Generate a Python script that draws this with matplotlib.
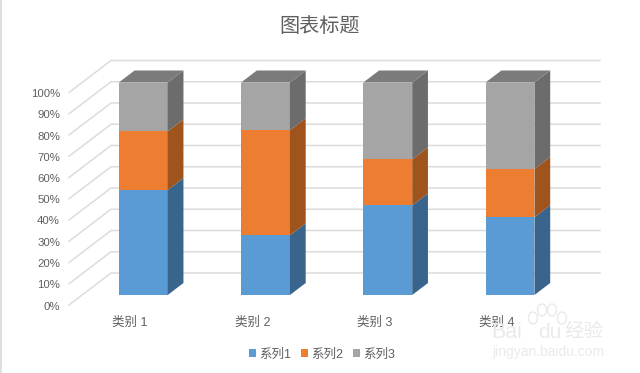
import matplotlib
matplotlib.use('Agg')
import matplotlib.pyplot as plt
from matplotlib.patches import Polygon, Patch, Ellipse
from matplotlib.transforms import ScaledTranslation
import numpy as np

plt.rcParams['font.family'] = ['Liberation Sans', 'Noto Sans CJK SC', 'DejaVu Sans']

categories = ['类别 1', '类别 2', '类别 3', '类别 4']
series_names = ['系列1', '系列2', '系列3']
series1 = [4.3, 2.5, 3.5, 4.5]
series2 = [2.4, 4.4, 1.8, 2.8]
series3 = [2, 2, 3, 5]
y_ticks = list(range(0, 101, 10))
y_labels = [f'{v}%' for v in y_ticks]

front = ['#5B9BD5', '#ED7D31', '#A5A5A5']
side = ['#39658C', '#A0541D', '#6C6C6C']
top_color = '#7B7B7B'
text_color = '#5F5F5F'
grid_color = '#DCDCDC'
mark_color = '#EAEAEA'

W, H = 640, 373
fig = plt.figure(figsize=(6.4, 3.73), dpi=100)
ax = fig.add_axes([69 / W, 1 - 305 / H, 489 / W, 212.5 / H])
ax.set_xlim(-0.5, 3.5)
ax.set_ylim(0, 100)

# wall depth in data units, front plane to back plane
dx = 42 / 122.25
dy = 32 / 2.125
d0, d1 = 10 / 32, 22 / 32
bar_w = 0.4

def pt(x, y, d):
    return (x + d * dx, y + d * dy)

for v in y_ticks:
    ax.plot(*zip(pt(-0.5, v, 0), pt(-0.5, v, 1), pt(3.5, v, 1)), color=grid_color,
            lw=1.1, clip_on=False, zorder=1)

data = np.array([series1, series2, series3], dtype=float)
pct = data / data.sum(axis=0) * 100
bottoms = np.vstack([np.zeros(4), np.cumsum(pct, axis=0)[:-1]])

for i in range(4):
    l, r = i - bar_w / 2, i + bar_w / 2
    for s in range(3):
        b, t = bottoms[s, i], bottoms[s, i] + pct[s, i]
        ax.add_patch(Polygon([pt(l, b, d0), pt(r, b, d0), pt(r, t, d0), pt(l, t, d0)],
                             fc=front[s], ec='none', clip_on=False, zorder=3))
        ax.add_patch(Polygon([pt(r, b, d0), pt(r, b, d1), pt(r, t, d1), pt(r, t, d0)],
                             fc=side[s], ec='none', clip_on=False, zorder=3))
    ax.add_patch(Polygon([pt(l, 100, d0), pt(r, 100, d0), pt(r, 100, d1), pt(l, 100, d1)],
                         fc=top_color, ec='none', clip_on=False, zorder=3))

for sp in ax.spines.values():
    sp.set_visible(False)
ax.set_xticks(range(4))
ax.set_xticklabels(categories, fontsize=9, color=text_color)
ax.set_yticks(y_ticks)
ax.set_yticklabels(y_labels, fontsize=8.2, color=text_color, va='center')
ax.tick_params(axis='x', length=0, pad=8.5)
ax.tick_params(axis='y', length=0, pad=6.5)
# the percent labels sit a little under their lines
for lab in ax.get_yticklabels():
    lab.set_transform(lab.get_transform() + ScaledTranslation(0, -1.5 / 100, fig.dpi_scale_trans))

fig.text(320 / W, 1 - 27 / H, '图表标题', fontsize=14.5, color=text_color, ha='center', va='center')

handles = [Patch(fc=c, ec='none') for c in front]
fig.legend(handles, series_names, loc='center', bbox_to_anchor=(322 / W, 1 - 354.5 / H), ncols=3,
           frameon=False, fontsize=9, labelcolor=text_color, handlelength=0.55, handleheight=0.55,
           handletextpad=0.3, columnspacing=0.75)

# chart border on the left edge and the watermark
fig.add_artist(plt.Line2D([1 / W, 1 / W], [0, 1], color='#D9D9D9', lw=1.2))
fig.text(507 / W, 1 - 333 / H, 'Bai', fontsize=15.5, color=mark_color, ha='center', va='center', zorder=5)
fig.text(550 / W, 1 - 333 / H, 'du', fontsize=15, color=mark_color, ha='center', va='center', zorder=5)
fig.text(584 / W, 1 - 332 / H, '经验', fontsize=14, color=mark_color, ha='center', va='center', zorder=5)
fig.text(548 / W, 1 - 352 / H, 'jingyan.baidu.com', fontsize=10, color=mark_color, ha='center', va='center', zorder=5)
for px, py in [(533, 318), (542, 310), (552, 310), (562, 318)]:
    fig.add_artist(Ellipse((px / W, 1 - py / H), 9 / W, 12 / H, fc='none', ec=mark_color, lw=1,
                           transform=fig.transFigure))

fig.savefig('out.png', dpi=100)
